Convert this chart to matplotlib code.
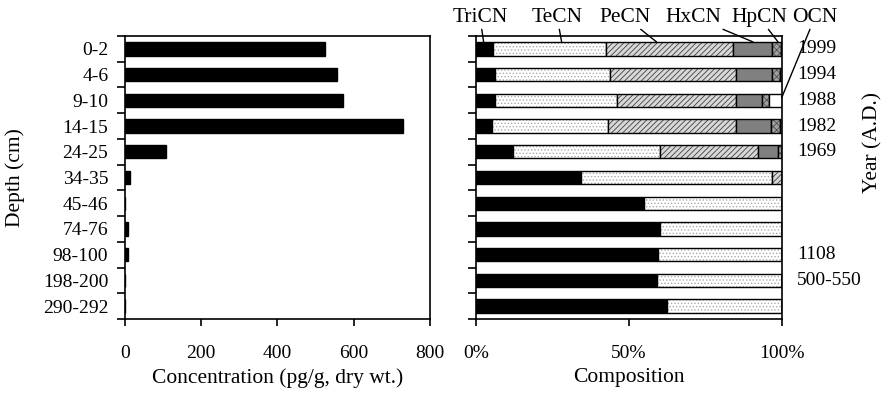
import matplotlib
matplotlib.use("Agg")
import matplotlib.pyplot as plt
import numpy as np

plt.rcParams['font.family'] = ['Liberation Serif', 'DejaVu Serif']
plt.rcParams['font.size'] = 14
plt.rcParams['hatch.linewidth'] = 0.6

depths = ["0-2", "4-6", "9-10", "14-15", "24-25", "34-35", "45-46",
          "74-76", "98-100", "198-200", "290-292"]
conc = [525, 555, 573, 730, 107, 13, 1, 9, 9, 0, 0]

groups = ["TriCN", "TeCN", "PeCN", "HxCN", "HpCN", "OCN"]
tricn = [5.5, 6.2, 6.2, 5.2, 12.0, 34.2, 55.0, 60.0, 59.4, 59.1, 62.4]
tecn = [36.9, 37.6, 39.9, 38.1, 48.2, 62.5, 45.0, 40.0, 40.6, 40.9, 37.6]
pecn = [41.6, 41.1, 38.8, 41.6, 32.0, 3.3, 0, 0, 0, 0, 0]
hxcn = [12.8, 11.9, 8.7, 11.5, 6.4, 0, 0, 0, 0, 0, 0]
hpcn = [2.9, 2.6, 2.3, 3.0, 1.3, 0, 0, 0, 0, 0, 0]
ocn = [0.3, 0.6, 4.1, 0.6, 0.1, 0, 0, 0, 0, 0, 0]

years = ["1999", "1994", "1988", "1982", "1969", "", "", "", "1108", "500-550", ""]

y = np.arange(len(depths))
bh = 0.52
lab_size = 15.5

fig = plt.figure(figsize=(8.87, 3.99), dpi=100)
ax1 = fig.add_axes([0.1409, 0.2005, 0.3439, 0.7093])
ax2 = fig.add_axes([0.5366, 0.2005, 0.345, 0.7093])

# left: concentration
ax1.barh(y, conc, height=bh, color='black', edgecolor='black')
ax1.set_xlim(0, 800)
ax1.set_xticks([0, 200, 400, 600, 800])
ax1.set_ylim(len(depths) - 0.5, -0.5)
ax1.set_yticks(y)
ax1.set_yticklabels(depths)
ax1.set_xlabel("Concentration (pg/g, dry wt.)", labelpad=4, fontsize=lab_size)
ax1.set_ylabel("Depth (cm)", fontsize=lab_size)
ax1.yaxis.set_label_coords(-0.328, 0.5)

# right: composition
styles = [
    dict(fc='black', hc='black', hatch=None),
    dict(fc='white', hc='#aaaaaa', hatch='.....'),
    dict(fc='#d8d8d8', hc='#404040', hatch='//////'),
    dict(fc='#808080', hc='#808080', hatch=None),
    dict(fc='#a0a0a0', hc='#505050', hatch='xxxxx'),
    dict(fc='white', hc='white', hatch=None),
]
left = np.zeros(len(depths))
for vals, st in zip([tricn, tecn, pecn, hxcn, hpcn, ocn], styles):
    vals = np.array(vals)
    ax2.barh(y, vals, left=left, height=bh, color=st['fc'],
             edgecolor=st['hc'], hatch=st['hatch'], linewidth=0)
    ax2.barh(y, vals, left=left, height=bh, fill=False,
             edgecolor='black', linewidth=1.0)
    left += vals
ax2.set_xlim(0, 100)
ax2.set_xticks([0, 50, 100])
ax2.set_xticklabels(["0%", "50%", "100%"])
ax2.set_ylim(len(depths) - 0.5, -0.5)
ax2.set_yticks(y)
ax2.set_yticklabels([])
ax2.set_xlabel("Composition", labelpad=4, fontsize=lab_size)

for ax in (ax1, ax2):
    for s in ax.spines.values():
        s.set_linewidth(1.2)
    ax.set_yticks(np.arange(len(depths) + 1) - 0.5, minor=True)
    ax.tick_params(axis='y', which='major', length=0, pad=12)
    ax.tick_params(axis='y', which='minor', length=5.5, width=1.2, direction='out')
    ax.tick_params(axis='x', length=5, width=1.2, direction='out', pad=14)

# year labels
for yi, yr in zip(y, years):
    if yr:
        ax2.text(1.049, yi, yr, transform=ax2.get_yaxis_transform(),
                 ha='left', va='center')
fig.text(0.984, 0.644, "Year (A.D.)", rotation=90, ha='center', va='center',
         fontsize=lab_size)

# group labels with leader lines
label_x = [0.013, 0.265, 0.488, 0.712, 0.925, 1.108]
point_xy = [(2.5, -0.27), (28.0, -0.27), (59.0, -0.27), (90.5, -0.27),
            (98.7, -0.27), (99.9, 1.9)]
for name, lx, pt in zip(groups, label_x, point_xy):
    ax2.annotate(name, xy=pt, xycoords='data',
                 xytext=(lx, 1.067), textcoords='axes fraction',
                 ha='center', va='center', annotation_clip=False,
                 fontsize=lab_size,
                 arrowprops=dict(arrowstyle='-', color='black', lw=1.0,
                                 shrinkA=0, shrinkB=0))

fig.savefig("out.png", dpi=100)
